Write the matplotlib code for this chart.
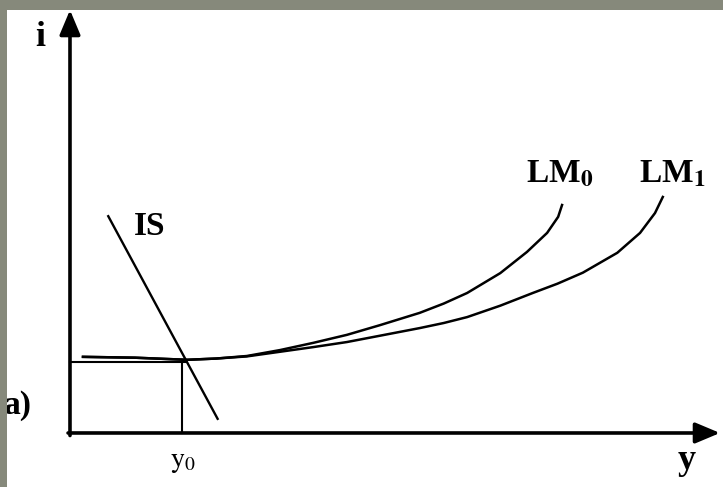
# IS-LM diagram, panel a)

import matplotlib
matplotlib.use('Agg')
from matplotlib import pyplot as plt

plt.rcParams['mathtext.fontset'] = 'stix'

# equilibrium
y0 = 17.3
i0 = 16.9

# IS line (two end points)
is_y = [5.8, 22.8]
is_i = [51.5, 3.1]

# LM curves
lm0_y = [2.0, 10.0, 18.0, 22.5, 27.2, 32.3, 37.4, 42.6, 47.7, 53.8, 57.5, 61.1, 66.2, 70.3, 73.4, 75.1, 75.7]
lm0_i = [18.0, 17.8, 17.3, 17.6, 18.2, 19.6, 21.3, 23.2, 25.5, 28.4, 30.6, 33.1, 37.8, 42.8, 47.3, 51.1, 53.9]

lm1_y = [2.0, 10.0, 18.0, 22.5, 27.2, 32.3, 37.4, 42.6, 47.7, 53.8, 57.5, 61.1, 66.2, 71.2, 75.0, 78.9, 84.2, 87.7, 90.0, 91.2]
lm1_i = [18.0, 17.8, 17.3, 17.6, 18.1, 19.2, 20.3, 21.5, 23.0, 24.8, 26.0, 27.4, 30.1, 33.1, 35.3, 37.9, 42.6, 47.3, 52.0, 55.8]

labels = ['i', 'IS', r'LM$_\mathbf{0}$', r'LM$_\mathbf{1}$', r'$\mathrm{y}_0$', 'y', 'a)']


fig = plt.figure(figsize=(7.23, 4.87), dpi=100, facecolor='#86897b')
ax = fig.add_axes([7/723, 0, 716/723, 477/487], facecolor='white')
ax.set_xlim(-9.69, 100.46)
ax.set_ylim(-12.77, 100.0)
ax.set_xticks([])
ax.set_yticks([])
for s in ax.spines.values():
    s.set_visible(False)

# axes with arrows
arrow = dict(arrowstyle='-|>,head_length=1.0,head_width=0.42', lw=2.6,
             color='black', shrinkA=0, shrinkB=0, mutation_scale=15)
ax.annotate('', xy=(0, 100), xytext=(0, -0.6), arrowprops=arrow, annotation_clip=False)
ax.annotate('', xy=(100, 0), xytext=(-0.3, 0), arrowprops=arrow, annotation_clip=False)

# curves
ax.plot(is_y, is_i, color='black', lw=1.7, solid_capstyle='butt')
ax.plot(lm0_y, lm0_i, color='black', lw=1.8)
ax.plot(lm1_y, lm1_i, color='black', lw=1.8)

# guide lines to equilibrium
ax.plot([0, y0 + 0.6], [i0, i0], color='black', lw=1.5)
ax.plot([y0, y0], [0, i0], color='black', lw=1.5)

serif = dict(family='Liberation Serif', weight='bold', color='black')
ax.text(-4.6, 93.6, labels[0], fontsize=26, ha='center', va='center', **serif)
ax.text(12.2, 48.9, labels[1], fontsize=24, ha='center', va='center', **serif)
ax.text(70.2, 59.3, labels[2], fontsize=24, ha='left', va='baseline', **serif)
ax.text(87.6, 59.3, labels[3], fontsize=24, ha='left', va='baseline', **serif)
ax.text(17.4, -6.6, labels[4], fontsize=20, ha='center', va='center', color='black')
ax.text(94.8, -6.4, labels[5], fontsize=26, ha='center', va='center', **serif)
ax.text(-10.2, 6.6, labels[6], fontsize=24, ha='left', va='center', clip_on=True, **serif)

fig.savefig('out.png', dpi=100, facecolor=fig.get_facecolor())
